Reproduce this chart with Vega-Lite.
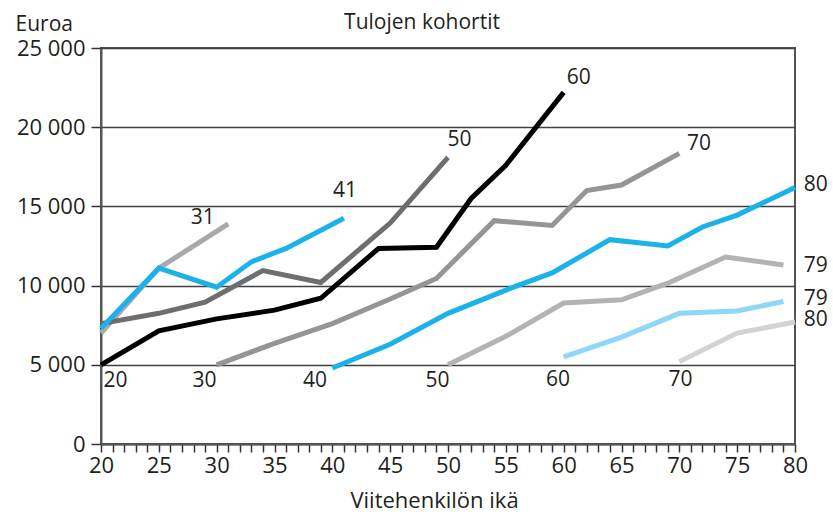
{
  "$schema": "https://vega.github.io/schema/vega-lite/v6.json",
  "width": 694,
  "height": 396,
  "autosize": "none",
  "padding": {"left": 101, "top": 48, "right": 38, "bottom": 68},
  "background": "white",
  "title": {"text": "Tulojen kohortit", "anchor": "middle", "dx": -26, "dy": 58, "frame": "group", "offset": 21, "baseline": "alphabetic", "font": "Open Sans", "fontSize": 21, "fontWeight": "normal", "color": "#231f20"},
  "config": {
    "view": {"stroke": "#555", "strokeWidth": 2},
    "axis": {"labelFont": "Open Sans", "titleFont": "Open Sans", "labelColor": "#231f20", "titleColor": "#231f20", "titleFontWeight": "normal"}
  },
  "datasets": {
    "lines": [
      {"series": "c70_80", "age": 70, "value": 5200},
      {"series": "c70_80", "age": 75, "value": 7000},
      {"series": "c70_80", "age": 80, "value": 7700},
      {"series": "c60_79", "age": 60, "value": 5500},
      {"series": "c60_79", "age": 65, "value": 6750},
      {"series": "c60_79", "age": 70, "value": 8250},
      {"series": "c60_79", "age": 75, "value": 8400},
      {"series": "c60_79", "age": 79, "value": 9000},
      {"series": "c50_79", "age": 50, "value": 5000},
      {"series": "c50_79", "age": 55, "value": 6800},
      {"series": "c50_79", "age": 60, "value": 8900},
      {"series": "c50_79", "age": 65, "value": 9100},
      {"series": "c50_79", "age": 69, "value": 10150},
      {"series": "c50_79", "age": 74, "value": 11800},
      {"series": "c50_79", "age": 79, "value": 11300},
      {"series": "c30_70", "age": 30, "value": 5000},
      {"series": "c30_70", "age": 35, "value": 6350},
      {"series": "c30_70", "age": 40, "value": 7600},
      {"series": "c30_70", "age": 45, "value": 9150},
      {"series": "c30_70", "age": 49, "value": 10450},
      {"series": "c30_70", "age": 54, "value": 14100},
      {"series": "c30_70", "age": 59, "value": 13800},
      {"series": "c30_70", "age": 62, "value": 16000},
      {"series": "c30_70", "age": 65, "value": 16350},
      {"series": "c30_70", "age": 70, "value": 18350},
      {"series": "c40_80", "age": 40, "value": 4800},
      {"series": "c40_80", "age": 45, "value": 6300},
      {"series": "c40_80", "age": 50, "value": 8250},
      {"series": "c40_80", "age": 56, "value": 10000},
      {"series": "c40_80", "age": 59, "value": 10800},
      {"series": "c40_80", "age": 64, "value": 12900},
      {"series": "c40_80", "age": 69, "value": 12500},
      {"series": "c40_80", "age": 72, "value": 13700},
      {"series": "c40_80", "age": 75, "value": 14450},
      {"series": "c40_80", "age": 80, "value": 16200},
      {"series": "c20_31", "age": 20, "value": 7000},
      {"series": "c20_31", "age": 25, "value": 11100},
      {"series": "c20_31", "age": 31, "value": 13900},
      {"series": "c20_50", "age": 20, "value": 7600},
      {"series": "c20_50", "age": 25, "value": 8250},
      {"series": "c20_50", "age": 29, "value": 8950},
      {"series": "c20_50", "age": 34, "value": 10950},
      {"series": "c20_50", "age": 39, "value": 10200},
      {"series": "c20_50", "age": 45, "value": 13950},
      {"series": "c20_50", "age": 50, "value": 18100},
      {"series": "c20_41", "age": 20, "value": 7300},
      {"series": "c20_41", "age": 25, "value": 11100},
      {"series": "c20_41", "age": 30, "value": 9900},
      {"series": "c20_41", "age": 33, "value": 11500},
      {"series": "c20_41", "age": 36, "value": 12350},
      {"series": "c20_41", "age": 41, "value": 14250},
      {"series": "c20_60", "age": 20, "value": 5000},
      {"series": "c20_60", "age": 25, "value": 7150},
      {"series": "c20_60", "age": 30, "value": 7900},
      {"series": "c20_60", "age": 35, "value": 8450},
      {"series": "c20_60", "age": 39, "value": 9200},
      {"series": "c20_60", "age": 44, "value": 12350},
      {"series": "c20_60", "age": 49, "value": 12420},
      {"series": "c20_60", "age": 52, "value": 15500},
      {"series": "c20_60", "age": 55, "value": 17600},
      {"series": "c20_60", "age": 60, "value": 22200}
    ],
    "labels": [
      {"label": "31", "age": 28.8, "value": 14240},
      {"label": "41", "age": 41.1, "value": 15970},
      {"label": "50", "age": 51.0, "value": 19190},
      {"label": "60", "age": 61.3, "value": 23100},
      {"label": "70", "age": 71.7, "value": 18970},
      {"label": "80", "age": 81.8, "value": 16350},
      {"label": "79", "age": 81.8, "value": 11240},
      {"label": "79", "age": 81.8, "value": 9185},
      {"label": "80", "age": 81.8, "value": 7800},
      {"label": "20", "age": 21.25, "value": 3980},
      {"label": "30", "age": 28.95, "value": 3980},
      {"label": "40", "age": 38.5, "value": 3980},
      {"label": "50", "age": 49.1, "value": 3980},
      {"label": "60", "age": 59.5, "value": 4040},
      {"label": "70", "age": 70.1, "value": 4040}
    ]
  },
  "encoding": {
    "x": {
      "field": "age", "type": "quantitative",
      "scale": {"domain": [20, 80], "nice": false, "zero": false},
      "axis": {
        "values": [20,21,22,23,24,25,26,27,28,29,30,31,32,33,34,35,36,37,38,39,40,41,42,43,44,45,46,47,48,49,50,51,52,53,54,55,56,57,58,59,60,61,62,63,64,65,66,67,68,69,70,71,72,73,74,75,76,77,78,79,80],
        "labelExpr": "datum.value % 5 === 0 ? datum.label : ''",
        "labelOverlap": false,
        "labelFlush": false,
        "labelFontSize": 22,
        "labelPadding": 3,
        "tickSize": 8, "tickColor": "#333", "tickWidth": 1.5,
        "domainColor": "#555", "domainWidth": 2,
        "grid": false,
        "title": "Viitehenkilön ikä",
        "titleFontSize": 22,
        "titleX": 333, "titleY": 63, "titleAlign": "center", "titleBaseline": "alphabetic"
      }
    },
    "y": {
      "field": "value", "type": "quantitative",
      "scale": {"domain": [0, 25000], "nice": false},
      "axis": {
        "values": [0, 5000, 10000, 15000, 20000, 25000],
        "labelExpr": "replace(format(datum.value, ',d'), ',', ' ')",
        "labelFontSize": 22,
        "labelPadding": 6,
        "tickSize": 10, "tickColor": "#333", "tickWidth": 1.5,
        "domainColor": "#555", "domainWidth": 2,
        "grid": true, "gridColor": "#404040", "gridWidth": 1.5,
        "title": "Euroa",
        "titleFontSize": 21,
        "titleAngle": 0, "titleAlign": "left", "titleBaseline": "alphabetic",
        "titleX": -86, "titleY": -18
      }
    }
  },
  "layer": [
    {
      "data": {"name": "lines"},
      "mark": {"type": "line", "strokeWidth": 5, "strokeCap": "butt", "strokeJoin": "miter"},
      "encoding": {
        "color": {
          "field": "series", "type": "nominal", "legend": null,
          "scale": {
            "domain": ["c70_80", "c60_79", "c50_79", "c30_70", "c40_80", "c20_31", "c20_50", "c20_41", "c20_60"],
            "range": ["#d1d3d4", "#8dd7f7", "#b1b3b6", "#939598", "#1ab2e8", "#a7a9ac", "#6d6e71", "#1ab2e8", "#000000"]
          }
        }
      }
    },
    {
      "data": {"name": "labels"},
      "mark": {"type": "text", "align": "center", "baseline": "middle", "font": "Open Sans", "fontSize": 21, "color": "#231f20"},
      "encoding": {"text": {"field": "label", "type": "nominal"}}
    }
  ]
}
